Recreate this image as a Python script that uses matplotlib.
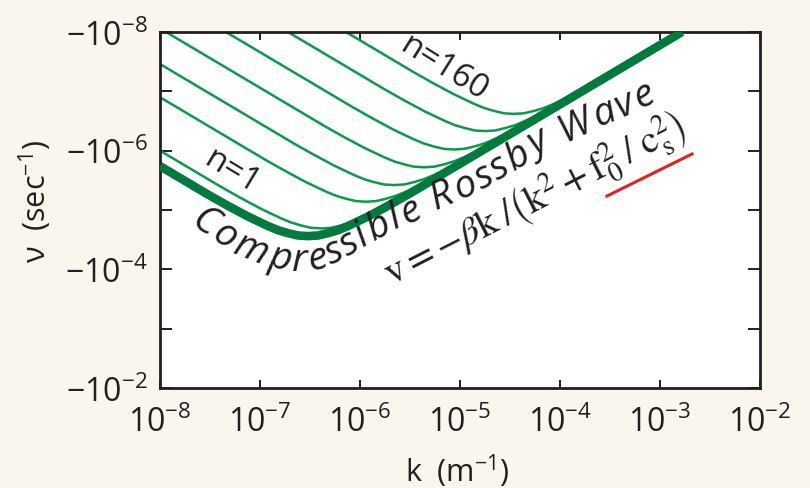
import numpy as np
import matplotlib
matplotlib.use('Agg')
import matplotlib.pyplot as plt
from matplotlib.font_manager import FontProperties
from matplotlib.lines import Line2D

plt.rcParams['font.family'] = ['Open Sans', 'DejaVu Sans']
plt.rcParams['mathtext.fontset'] = 'custom'
plt.rcParams['mathtext.rm'] = 'Open Sans'
plt.rcParams['mathtext.it'] = 'Open Sans:italic'
plt.rcParams['mathtext.bf'] = 'Open Sans:bold'
plt.rcParams['mathtext.sf'] = 'Open Sans'

# log10 k (m^-1) and log10 |v| (sec^-1)
thick_logk = [-8.00, -7.52, -7.32, -7.12, -6.92, -6.82, -6.72, -6.62, -6.52, -6.42, -6.32, -6.22, -6.12, -5.92, -5.72, -5.52, -5.02, -2.78]
thick_logv = [-5.74, -5.26, -5.07, -4.89, -4.73, -4.66, -4.61, -4.57, -4.56, -4.57, -4.61, -4.66, -4.73, -4.89, -5.07, -5.26, -5.76, -8.00]

m1_logk = [-8.00, -7.39, -7.19, -6.99, -6.79, -6.69, -6.59, -6.49, -6.39, -6.29, -6.19, -6.09, -5.99, -5.79, -5.59, -5.39, -4.89, -4.39]
m1_logv = [-6.00, -5.39, -5.20, -5.02, -4.86, -4.79, -4.74, -4.70, -4.69, -4.70, -4.74, -4.79, -4.86, -5.02, -5.20, -5.39, -5.89, -6.39]
m2_logk = [-8.00, -6.94, -6.74, -6.54, -6.34, -6.24, -6.14, -6.04, -5.94, -5.84, -5.74, -5.64, -5.54, -5.34, -5.14, -4.94, -4.44, -3.94]
m2_logv = [-6.90, -5.84, -5.65, -5.47, -5.31, -5.24, -5.19, -5.15, -5.14, -5.15, -5.19, -5.24, -5.31, -5.47, -5.65, -5.84, -6.34, -6.84]
m3_logk = [-8.00, -6.66, -6.46, -6.26, -6.06, -5.96, -5.86, -5.76, -5.66, -5.56, -5.46, -5.36, -5.26, -5.06, -4.86, -4.66, -4.16, -3.66]
m3_logv = [-7.46, -6.12, -5.93, -5.75, -5.59, -5.52, -5.47, -5.43, -5.42, -5.43, -5.47, -5.52, -5.59, -5.75, -5.93, -6.12, -6.62, -7.12]
m4_logk = [-8.00, -6.36, -6.16, -5.96, -5.76, -5.66, -5.56, -5.46, -5.36, -5.26, -5.16, -5.06, -4.96, -4.76, -4.56, -4.36, -3.86, -3.36]
m4_logv = [-8.06, -6.42, -6.23, -6.05, -5.89, -5.82, -5.77, -5.73, -5.72, -5.73, -5.77, -5.82, -5.89, -6.05, -6.23, -6.42, -6.92, -7.42]
m5_logk = [-7.40, -6.06, -5.86, -5.66, -5.46, -5.36, -5.26, -5.16, -5.06, -4.96, -4.86, -4.76, -4.66, -4.46, -4.26, -4.06, -3.56, -3.06]
m5_logv = [-8.06, -6.72, -6.53, -6.35, -6.19, -6.12, -6.07, -6.03, -6.02, -6.03, -6.07, -6.12, -6.19, -6.35, -6.53, -6.72, -7.22, -7.72]
m6_logk = [-6.80, -5.75, -5.55, -5.35, -5.15, -5.05, -4.95, -4.85, -4.75, -4.65, -4.55, -4.45, -4.35, -4.15, -3.95, -3.75, -3.25, -2.75]
m6_logv = [-8.08, -7.03, -6.84, -6.66, -6.50, -6.43, -6.38, -6.34, -6.33, -6.34, -6.38, -6.43, -6.50, -6.66, -6.84, -7.03, -7.53, -8.03]
m7_logk = [-6.20, -5.46, -5.26, -5.06, -4.86, -4.76, -4.66, -4.56, -4.46, -4.36, -4.26, -4.16, -4.06, -3.86, -3.66, -3.46, -2.96, -2.66]
m7_logv = [-8.06, -7.32, -7.13, -6.95, -6.79, -6.72, -6.67, -6.63, -6.62, -6.63, -6.67, -6.72, -6.79, -6.95, -7.13, -7.32, -7.82, -8.12]

modes = [(m1_logk, m1_logv), (m2_logk, m2_logv), (m3_logk, m3_logv), (m4_logk, m4_logv),
         (m5_logk, m5_logv), (m6_logk, m6_logv), (m7_logk, m7_logv)]

x_exps = [-8, -7, -6, -5, -4, -3, -2]
y_exps = [-8, -7, -6, -5, -4, -3, -2]
y_label_exps = [-8, -6, -4, -2]

BG = '#faf6ee'
INK = '#231f20'
DARK_GREEN = '#007a3d'
GREEN = '#0a9a4a'

W, H = 810, 489
fig = plt.figure(figsize=(W / 100, H / 100), dpi=100, facecolor=BG)
ax = fig.add_axes([160 / W, 1 - 389 / H, 600 / W, 356 / H])
ax.set_facecolor('white')

for lk, lv in modes:
    ax.plot(10.0 ** np.array(lk), 10.0 ** np.array(lv), color=GREEN, lw=1.8, solid_capstyle='butt', zorder=2)
ax.plot(10.0 ** np.array(thick_logk), 10.0 ** np.array(thick_logv), color=DARK_GREEN, lw=6.2,
        solid_capstyle='butt', zorder=3)

ax.set_xscale('log')
ax.set_yscale('log')
ax.set_xlim(1e-8, 1e-2)
ax.set_ylim(1e-2, 1e-8)
ax.minorticks_off()
ax.set_xticks([10.0 ** e for e in x_exps])
ax.set_xticklabels([r'$10^{%d}$' % e for e in x_exps])
ax.set_yticks([10.0 ** e for e in y_exps])
ax.set_yticklabels([r'$-10^{%d}$' % e if e in y_label_exps else '' for e in y_exps])
ax.tick_params(axis='x', which='both', direction='in', top=True, length=6, width=1.4,
               color=INK, labelcolor=INK, labelsize=23, pad=13)
ax.tick_params(axis='y', which='both', direction='in', right=True, length=8.5, width=1.4,
               color=INK, labelcolor=INK, labelsize=23, pad=9)
for sp in ax.spines.values():
    sp.set_linewidth(2.0)
    sp.set_color(INK)

fig.text(457 / W, 1 - 482 / H, r'k  (m$^{-1}$)', ha='center', va='baseline', fontsize=22, color=INK)
fig.text(46 / W, 1 - 202 / H, r'ν  (sec$^{-1}$)', ha='center', va='baseline', rotation=90,
         rotation_mode='anchor', fontsize=22, color=INK)

fig.text(232 / W, 1 - 172 / H, 'n=1', ha='center', va='center', rotation=-31, rotation_mode='anchor',
         fontsize=24, color=INK)
fig.text(444 / W, 1 - 68 / H, 'n=160', ha='center', va='center', rotation=-32, rotation_mode='anchor',
         fontsize=24, color=INK)

fig.text(535 / W, 1 - 201 / H,
         r'$\mathrm{v} = -\beta\mathrm{k}\;/\left(\mathrm{k}^2 + \mathrm{f}_0^2\;/\;\mathrm{c}_\mathrm{s}^2\right)$',
         ha='center', va='center', rotation=27, rotation_mode='anchor', fontsize=28,
         color=INK, math_fontfamily='stix')
fig.add_artist(Line2D([607 / W, 692 / W], [1 - 197 / H, 1 - 155 / H], transform=fig.transFigure,
                      color='#e3221f', lw=2.2))

# text along the curve
label = 'Compressible Rossby Wave'
path = np.array([(188, 224), (223, 247), (248, 259), (273, 267), (295, 271), (317, 270), (332, 265),
                 (347, 258), (370, 243), (400, 227), (415, 221), (435, 210), (458, 200), (488, 187),
                 (505, 176), (540, 155), (580, 135), (620, 118), (658, 101)], float)
path[:, 1] = H - path[:, 1]
arc = np.concatenate([[0], np.cumsum(np.hypot(*np.diff(path, axis=0).T))])
prop = FontProperties(family='Open Sans', style='italic', size=28)
renderer = fig.canvas.get_renderer()


def text_w(s):
    return renderer.get_text_width_height_descent(s, prop, ismath=False)[0]


total = text_w(label)
stretch = arc[-1] / total
for i, ch in enumerate(label):
    if ch == ' ':
        continue
    c = (text_w(label[:i + 1]) - text_w(ch) / 2) * stretch
    x = np.interp(c, arc, path[:, 0])
    y = np.interp(c, arc, path[:, 1])
    x1, y1 = np.interp(c - 10, arc, path[:, 0]), np.interp(c - 10, arc, path[:, 1])
    x2, y2 = np.interp(c + 10, arc, path[:, 0]), np.interp(c + 10, arc, path[:, 1])
    ang = np.degrees(np.arctan2(y2 - y1, x2 - x1))
    fig.text(x / W, y / H, ch, ha='center', va='baseline', rotation=ang, rotation_mode='anchor',
             fontproperties=prop, color=INK)

fig.savefig('out.png', dpi=100, facecolor=BG)
plt.close('all')
